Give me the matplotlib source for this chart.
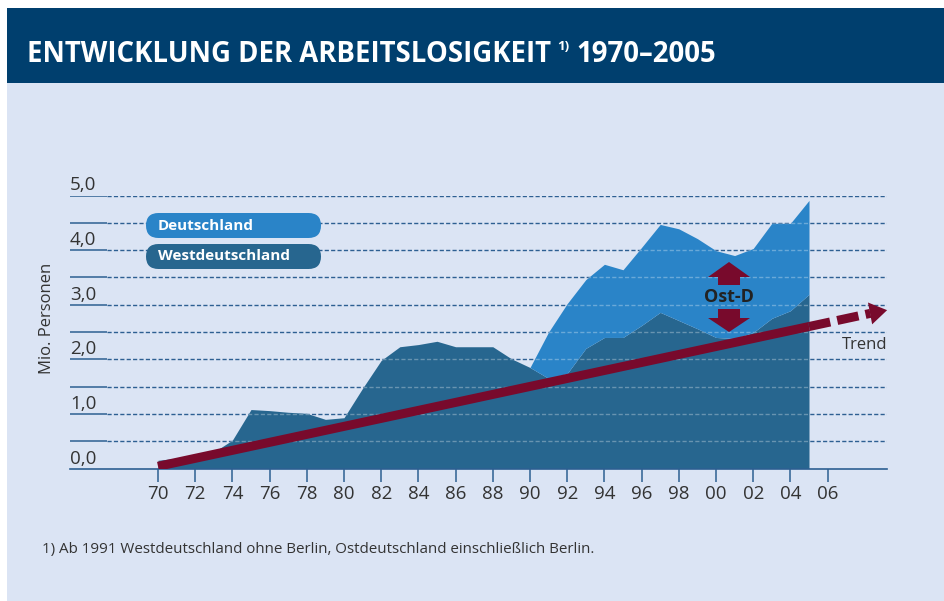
import matplotlib
matplotlib.use("Agg")
import matplotlib.pyplot as plt
from matplotlib.patches import Rectangle, FancyBboxPatch, Polygon

# values (Mio. Personen)
years = list(range(1970, 2006))
west = [0.15, 0.19, 0.25, 0.30, 0.52, 1.08, 1.06, 1.03, 1.01, 0.90,
        0.93, 1.47, 1.98, 2.23, 2.27, 2.33, 2.23, 2.23, 2.23, 2.01,
        1.85, 1.65, 1.74, 2.20, 2.40, 2.40, 2.62, 2.86, 2.71, 2.56,
        2.40, 2.38, 2.49, 2.75, 2.89, 3.19]
germany_years = list(range(1990, 2006))
germany = [1.85, 2.50, 3.02, 3.46, 3.74, 3.64, 4.05, 4.47, 4.39, 4.21,
           3.99, 3.90, 4.03, 4.49, 4.49, 4.91]
trend_years = [1970, 2005]
trend_vals = [0.04, 2.60]
trend_tip = (2009.2, 2.90)

x_ticks = list(range(1970, 2008, 2))
x_tick_labels = ["70", "72", "74", "76", "78", "80", "82", "84", "86", "88",
                 "90", "92", "94", "96", "98", "00", "02", "04", "06"]
grid_levels = [0.5, 1.0, 1.5, 2.0, 2.5, 3.0, 3.5, 4.0, 4.5, 5.0]
y_label_levels = [0.0, 1.0, 2.0, 3.0, 4.0, 5.0]
y_label_texts = ["0,0", "1,0", "2,0", "3,0", "4,0", "5,0"]

# colours
c_bg = "#dbe4f4"
c_band = "#003f6e"
c_de = "#2a84c8"
c_west = "#27668f"
c_trend = "#780a2c"
c_grid = "#2d5f92"
c_text = "#333333"

W, H = 945, 601
FONT = "Open Sans"

fig = plt.figure(figsize=(W / 100, H / 100), dpi=100)
fig.patch.set_facecolor("white")

# background layer in pixel coordinates
bg = fig.add_axes([0, 0, 1, 1], zorder=0)
bg.set_xlim(0, W)
bg.set_ylim(H, 0)
bg.axis("off")
bg.add_patch(Rectangle((7, 83), W - 7, H - 83, color=c_bg, lw=0))
bg.add_patch(Rectangle((7, 8), W - 7, 75, color=c_band, lw=0))

t1 = bg.text(27, 55, "ENTWICKLUNG DER ARBEITSLOSIGKEIT", color="white",
             fontsize=19.8, fontweight="bold", family=FONT, va="center")
fig.canvas.draw()
r = fig.canvas.get_renderer()
ext = t1.get_window_extent(r)
t2 = bg.text(ext.x1 + 6, 46, "1)", color="white", fontsize=9.5, fontweight="bold",
             family=FONT, va="center")
ext2 = t2.get_window_extent(r)
bg.text(ext2.x1 + 7, 55, "1970–2005", color="white", fontsize=19.8,
        fontweight="bold", family=FONT, va="center")

bg.text(42, 549, "1) Ab 1991 Westdeutschland ohne Berlin, Ostdeutschland einschließlich Berlin.",
        color=c_text, fontsize=10.9, family=FONT, va="center")
bg.text(47, 318, "Mio. Personen", color=c_text, fontsize=12, family=FONT,
        rotation=90, ha="center", va="center")

# main chart axes
px_year, px_unit = 18.6, 54.6
ax_l, ax_r, ax_t, ax_b = 70, 887, 195.5, 468.5
ax = fig.add_axes([ax_l / W, 1 - ax_b / H, (ax_r - ax_l) / W, (ax_b - ax_t) / H], zorder=1)
ax.set_facecolor("none")
ax.set_xlim(1970 - (158 - ax_l) / px_year, 1970 + (ax_r - 158) / px_year)
ax.set_ylim(0, (ax_b - ax_t) / px_unit)
for s in ["top", "right", "left"]:
    ax.spines[s].set_visible(False)
ax.spines["bottom"].set_color(c_grid)
ax.spines["bottom"].set_linewidth(1.2)
ax.set_yticks([])
ax.set_xticks(x_ticks)
ax.set_xticklabels(x_tick_labels, fontsize=13.5, family=FONT, color=c_text)
ax.tick_params(axis="x", length=9, width=1.1, color=c_grid, pad=3)

split = (107 - ax_l) / (ax_r - ax_l)
ytr = ax.get_yaxis_transform()
dash = (0, (3, 1.6))
for lv in grid_levels:
    ax.plot([0, split], [lv, lv], color=c_grid, lw=1.1, transform=ytr, zorder=1,
            solid_capstyle="butt")
    ax.plot([split, 1], [lv, lv], color=c_grid, lw=1.0, ls=dash, transform=ytr, zorder=1)

for lv, lab in zip(y_label_levels, y_label_texts):
    ax.text(0, lv + 5 / px_unit, lab, transform=ytr, fontsize=13.5, family=FONT,
            color=c_text, va="baseline", ha="left")

poly_w = ax.fill_between(years, 0, west, color=c_west, lw=0, zorder=2)
poly_d = ax.fill_between(germany_years, west[20:], germany, color=c_de, lw=0, zorder=2)

# lighter dashes where grid crosses the areas
for poly in [poly_w, poly_d]:
    path = poly.get_paths()[0]
    for lv in grid_levels:
        ln, = ax.plot([split, 1], [lv, lv], color="white", alpha=0.3, lw=1.0, ls=dash,
                      transform=ytr, zorder=3)
        ln.set_clip_path(path, ax.transData)

# trend arrow
ax.plot(trend_years, trend_vals, color=c_trend, lw=6.5, solid_capstyle="butt", zorder=4)
slope = (trend_vals[1] - trend_vals[0]) / (trend_years[1] - trend_years[0])
base_x = trend_tip[0] - 0.9
base_y = trend_vals[1] + slope * (base_x - trend_years[1])
ax.plot([trend_years[1], base_x], [trend_vals[1], base_y], color=c_trend, lw=6.5,
        ls=(0, (2.4, 0.8)), dash_capstyle="butt", zorder=4)
ax.annotate("", xy=trend_tip, xytext=(base_x, base_y),
            arrowprops=dict(arrowstyle="-|>,head_length=1.25,head_width=0.8",
                            color=c_trend, lw=0, shrinkA=0, shrinkB=0,
                            mutation_scale=10), zorder=4)
ax.text(trend_tip[0], trend_tip[1] - 0.63, "Trend", fontsize=12, family=FONT,
        color=c_text, ha="right", va="center")

# Ost-D double arrow
cx = 2000.7
hw = 21 / px_year
sw = 11 / px_year
def vy(py):
    return (ax_b - py) / px_unit
up = [(cx, vy(262)), (cx + hw, vy(277)), (cx + sw, vy(277)), (cx + sw, vy(285)),
      (cx - sw, vy(285)), (cx - sw, vy(277)), (cx - hw, vy(277))]
down = [(cx, vy(332)), (cx + hw, vy(318)), (cx + sw, vy(318)), (cx + sw, vy(309)),
        (cx - sw, vy(309)), (cx - sw, vy(318)), (cx - hw, vy(318))]
ax.add_patch(Polygon(up, closed=True, color=c_trend, lw=0, zorder=5))
ax.add_patch(Polygon(down, closed=True, color=c_trend, lw=0, zorder=5))
ax.text(cx, vy(297), "Ost-D", fontsize=13, fontweight="bold", family=FONT,
        color="#222222", ha="center", va="center", zorder=5)

# legend pills on top
top = fig.add_axes([0, 0, 1, 1], zorder=2)
top.set_xlim(0, W)
top.set_ylim(H, 0)
top.axis("off")
for y0, col, lab in [(213, c_de, "Deutschland"), (244, c_west, "Westdeutschland")]:
    top.add_patch(FancyBboxPatch((146, y0), 175, 25,
                                 boxstyle="round,pad=0,rounding_size=12.5",
                                 color=col, lw=0))
    top.text(158, y0 + 12.5, lab, color="white", fontsize=11, fontweight="bold",
             family=FONT, va="center")

fig.savefig("out.png", dpi=100)
